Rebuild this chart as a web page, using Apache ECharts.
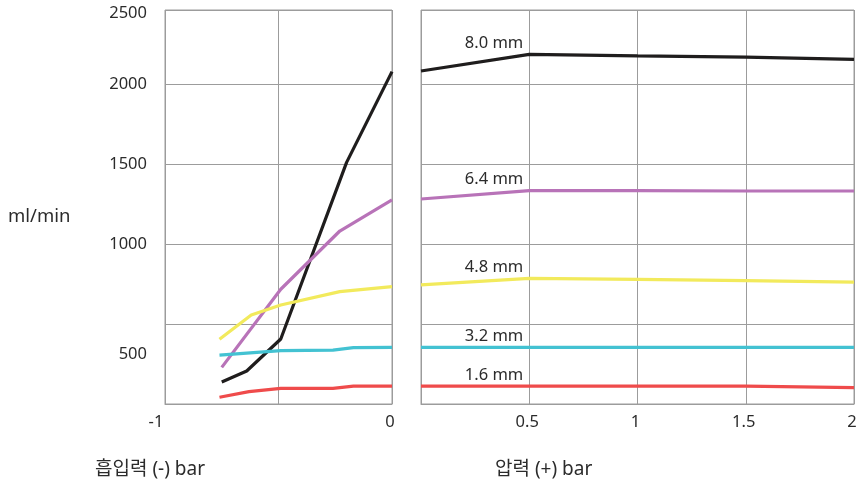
<!DOCTYPE html>
<html><head><meta charset="utf-8">
<script src="https://cdn.jsdelivr.net/npm/echarts@6/dist/echarts.min.js"></script>
<style>html,body{margin:0;padding:0;background:#fff}#c{width:860px;height:484px}</style>
</head><body><div id="c"></div>
<script>
// Data
const seriesNames = ['8.0 mm', '6.4 mm', '4.8 mm', '3.2 mm', '1.6 mm'];
const seriesColors = ['#1f1d1d', '#b873b8', '#f2ea5c', '#43c2d2', '#ef4b4b'];
// Suction side (x in bar, negative)
const suction80 = [[-0.75, 137], [-0.64, 206], [-0.49, 406], [-0.2, 1510], [0, 2077]];
const suction64 = [[-0.75, 229], [-0.49, 717], [-0.23, 1081], [0, 1275]];
const suction48 = [[-0.76, 404], [-0.62, 556], [-0.49, 619], [-0.23, 702], [0, 733]];
const suction32 = [[-0.76, 306], [-0.49, 333], [-0.26, 337], [-0.17, 352], [0, 354]];
const suction16 = [[-0.76, 42], [-0.63, 77], [-0.49, 98], [-0.26, 98], [-0.17, 112], [0, 112]];
// Pressure side
const pressureX = [0, 0.5, 1, 1.5, 2];
const pressure80 = [2081, 2185, 2175, 2167, 2154];
const pressure64 = [1281, 1333, 1333, 1331, 1331];
const pressure48 = [744, 785, 779, 771, 762];
const pressure32 = [354, 354, 354, 354, 354];
const pressure16 = [112, 112, 112, 112, 102];
const yTickLabels = {500: '500', 1000: '1000', 1500: '1500', 2000: '2000'};
const yTopLabel = '2500';
const yUnit = 'ml/min';
const suctionTitle = '흡입력 (-) bar';
const pressureTitle = '압력 (+) bar';
const labelAtX = 0.5;

const YMAX = 2462;
const suctionData = [suction80, suction64, suction48, suction32, suction16];
const pressureData = [pressure80, pressure64, pressure48, pressure32, pressure16];

const font = "'Noto Sans', 'Noto Sans CJK KR', sans-serif";
const gridColor = '#9c9c9c';
const textColor = '#2b2b2b';
const tickSize = 16.5;

const chart = echarts.init(document.getElementById('c'), null, {renderer: 'canvas'});

function yAxisCfg(idx, showLabels) {
  return {
    type: 'value', gridIndex: idx, min: 0, max: YMAX, interval: 500,
    axisLine: {show: false}, axisTick: {show: false},
    splitLine: {show: true, lineStyle: {color: gridColor, width: 1}},
    axisLabel: showLabels ? {
      show: true, showMaxLabel: true, showMinLabel: true, margin: 18,
      fontFamily: font, fontSize: tickSize, color: textColor,
      formatter: function (v) {
        if (v === YMAX) return '{sp2|}\n{v|' + yTopLabel + '}';
        if (v === 500) return '{sp|}\n{v|' + yTickLabels[500] + '}';
        return yTickLabels[v] || '';
      },
      rich: {
        sp: {lineHeight: 60, fontSize: 1},
        sp2: {lineHeight: 6, fontSize: 1},
        v: {lineHeight: 16, fontFamily: font, fontSize: tickSize, color: textColor}
      }
    } : {show: false}
  };
}

function xAxisCfg(idx, min, max, showFn) {
  return {
    type: 'value', gridIndex: idx, min: min, max: max, interval: 0.5,
    axisLine: {show: true, lineStyle: {color: gridColor, width: 1}},
    axisTick: {show: false},
    splitLine: {show: true, lineStyle: {color: gridColor, width: 1}},
    axisLabel: {
      show: true, showMinLabel: true, showMaxLabel: true, margin: 10,
      fontFamily: font, fontSize: tickSize, color: textColor,
      formatter: function (v) {
        if (!showFn(v)) return '';
        return v < 0 ? '{n|' + v + '}' : '{p|' + v + '}';
      },
      rich: {
        n: {fontFamily: font, fontSize: tickSize, color: textColor, padding: [0, 18, 0, 0]},
        p: {fontFamily: font, fontSize: tickSize, color: textColor, padding: [0, 4, 0, 0]}
      }
    }
  };
}

const series = [];
suctionData.forEach(function (d, i) {
  series.push({
    type: 'line', name: seriesNames[i], xAxisIndex: 0, yAxisIndex: 0,
    data: d, showSymbol: false, symbol: 'none', smooth: false,
    lineStyle: {color: seriesColors[i], width: 3.2}, itemStyle: {color: seriesColors[i]},
    silent: true
  });
});
pressureData.forEach(function (vals, i) {
  const data = vals.map(function (v, k) {
    const item = {value: [pressureX[k], v]};
    if (pressureX[k] === labelAtX) {
      item.label = {show: true};
    }
    return item;
  });
  series.push({
    type: 'line', name: seriesNames[i], xAxisIndex: 1, yAxisIndex: 1,
    data: data, showSymbol: true, symbol: 'circle', symbolSize: 0.01,
    lineStyle: {color: seriesColors[i], width: 3.2}, itemStyle: {color: seriesColors[i]},
    label: {
      show: false, position: 'top', align: 'right', distance: 3, offset: [-6, 0],
      fontFamily: font, fontSize: tickSize, color: textColor,
      formatter: function (p) { return p.seriesName; }
    },
    silent: true
  });
});

chart.setOption({
  animation: false,
  backgroundColor: '#ffffff',
  grid: [
    {left: 165, right: 468, top: 10, bottom: 80, show: true, borderColor: gridColor, borderWidth: 1, containLabel: false, outerBoundsMode: 'none'},
    {left: 421, right: 6, top: 10, bottom: 80, show: true, borderColor: gridColor, borderWidth: 1, containLabel: false, outerBoundsMode: 'none'}
  ],
  xAxis: [
    xAxisCfg(0, -1, 0, function (v) { return v === -1 || v === 0; }),
    xAxisCfg(1, 0, 2, function (v) { return v !== 0; })
  ],
  yAxis: [yAxisCfg(0, true), yAxisCfg(1, false)],
  series: series,
  graphic: [
    {type: 'text', x: 8, y: 217, style: {text: yUnit, fontFamily: font, fontSize: 18.5, fill: textColor, verticalAlign: 'middle', align: 'left'}},
    {type: 'text', left: 95, top: 460, style: {text: suctionTitle, fontFamily: font, fontSize: 19, fill: textColor}},
    {type: 'text', left: 495, top: 460, style: {text: pressureTitle, fontFamily: font, fontSize: 19, fill: textColor}}
  ]
});
</script>
</body></html>
